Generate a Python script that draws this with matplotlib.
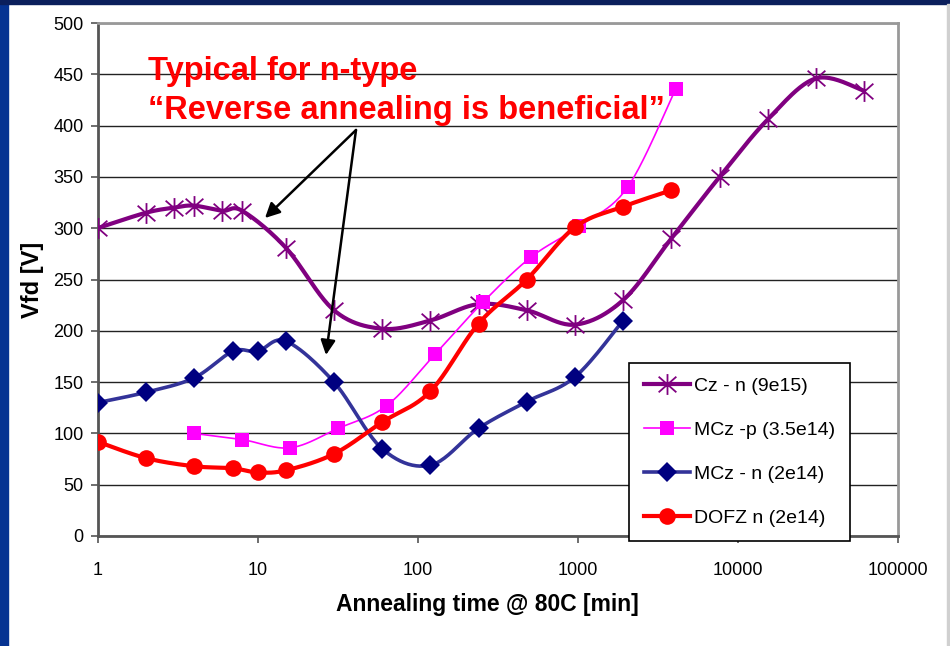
import numpy as np
import matplotlib.pyplot as plt
from matplotlib.path import Path
from matplotlib.lines import Line2D
from matplotlib.patches import Rectangle

plt.rcParams['font.family'] = ['Liberation Sans', 'DejaVu Sans']

# annealing time [min] and full depletion voltage [V]
cz_t = [1, 2, 3, 4, 6, 8, 15, 30, 60, 120, 240, 480, 960, 1920, 3840, 7680, 15360, 30720, 61440]
cz_v = [300, 315, 320, 322, 317, 317, 281, 220, 202, 210, 226, 220, 206, 230, 290, 350, 406, 446, 434]
mczp_t = [4, 8, 16, 32, 64, 128, 256, 512, 1024, 2048, 4096]
mczp_v = [100, 94, 86, 105, 127, 177, 228, 272, 302, 340, 436]
mczn_t = [1, 2, 4, 7, 10, 15, 30, 60, 120, 240, 480, 960, 1920]
mczn_v = [130, 140, 154, 180, 180, 190, 150, 85, 69, 105, 131, 155, 210]
dofz_t = [1, 2, 4, 7, 10, 15, 30, 60, 120, 240, 480, 960, 1920, 3840]
dofz_v = [92, 76, 68, 66, 62, 64, 80, 111, 141, 207, 250, 301, 321, 337]

labels = ['Cz - n (9e15)', 'MCz -p (3.5e14)', 'MCz - n (2e14)', 'DOFZ n (2e14)']


def smooth(t, v, n=25):
    # excel-like smoothed line (catmull-rom bezier in log-x)
    P = np.column_stack([np.log10(t), np.asarray(v, float)])
    P = np.vstack([P[0], P, P[-1]])
    segs = []
    s = np.linspace(0, 1, n)[:, None]
    for i in range(1, len(P) - 2):
        p0, p1, p2, p3 = P[i - 1], P[i], P[i + 1], P[i + 2]
        c1 = p1 + (p2 - p0) / 6
        c2 = p2 - (p3 - p1) / 6
        segs.append((1 - s)**3 * p1 + 3 * (1 - s)**2 * s * c1 + 3 * (1 - s) * s**2 * c2 + s**3 * p2)
    xy = np.vstack(segs)
    return 10**xy[:, 0], xy[:, 1]


star = Path([(0, -1), (0, 1), (-0.85, -0.75), (0.85, 0.75), (-0.85, 0.75), (0.85, -0.75)],
            [Path.MOVETO, Path.LINETO, Path.MOVETO, Path.LINETO, Path.MOVETO, Path.LINETO])

fig = plt.figure(figsize=(9.5, 6.46), dpi=100)
fig.patches.append(Rectangle((0, 0), 8 / 950, 1, transform=fig.transFigure, color='#063392', zorder=0))
fig.patches.append(Rectangle((0, 1 - 4 / 646), 1, 4 / 646, transform=fig.transFigure, color='#0b1f5c', zorder=0))
fig.patches.append(Rectangle((947 / 950, 0), 3 / 950, 1 - 4 / 646, transform=fig.transFigure, color='#d0d0d0', zorder=0))

ax = fig.add_axes([97.5 / 950, 1 - 536 / 646, 800.5 / 950, 513 / 646])
ax.set_xscale('log')
ax.set_xlim(1, 100000)
ax.set_ylim(0, 500)

styles = [
    dict(t=cz_t, v=cz_v, lc='#800080', lw=3, marker=star, ms=15, mfc='none', mec='#800080', mew=1.3),
    dict(t=mczp_t, v=mczp_v, lc='#ff00ff', lw=1.2, marker='s', ms=10.5, mfc='#ff00ff', mec='#ff00ff', mew=0),
    dict(t=mczn_t, v=mczn_v, lc='#333399', lw=2.6, marker='D', ms=10.5, mfc='#000080', mec='#000080', mew=0),
    dict(t=dofz_t, v=dofz_v, lc='#ff0000', lw=3, marker='o', ms=12, mfc='#ff0000', mec='#ff0000', mew=0),
]
handles = []
for k, st in enumerate(styles):
    sx, sy = smooth(st['t'], st['v'])
    ax.plot(sx, sy, color=st['lc'], lw=st['lw'], zorder=3 + k, solid_capstyle='round')
    ax.plot(st['t'], st['v'], ls='none', marker=st['marker'], ms=st['ms'], mfc=st['mfc'],
            mec=st['mec'], mew=st['mew'], zorder=3 + k)
    handles.append(Line2D([], [], color=st['lc'], lw=st['lw'], marker=st['marker'], ms=st['ms'],
                          mfc=st['mfc'], mec=st['mec'], mew=st['mew']))

ax.set_yticks(np.arange(0, 501, 50))
ax.set_xticks([1, 10, 100, 1000, 10000, 100000])
ax.set_xticklabels(['1', '10', '100', '1000', '10000', '100000'])
ax.minorticks_off()
ax.yaxis.grid(True, color='#222222', lw=1)
ax.set_axisbelow(True)
ax.tick_params(axis='both', direction='out', length=5, width=1.2, color='#555555', labelsize=13)
ax.tick_params(axis='x', pad=14)
ax.tick_params(axis='y', pad=5)
for side in ['top', 'right']:
    ax.spines[side].set_color('#999999')
    ax.spines[side].set_linewidth(2)
for side in ['left', 'bottom']:
    ax.spines[side].set_color('#555555')
    ax.spines[side].set_linewidth(2)

fig.text(33 / 950, 1 - 280 / 646, 'Vfd [V]', rotation=90, fontsize=17, fontweight='bold',
         ha='center', va='center')
fig.text(487 / 950, 1 - 605 / 646, 'Annealing time @ 80C [min]', fontsize=16.5, fontweight='bold',
         ha='center', va='center')

fig.text(148 / 950, 1 - 80 / 646, 'Typical for n-type', color='#ff0000', fontsize=23.5,
         fontweight='bold', va='baseline', zorder=10)
fig.text(148 / 950, 1 - 119 / 646, '\u201cReverse annealing is beneficial\u201d', color='#ff0000',
         fontsize=23.5, fontweight='bold', va='baseline', zorder=10)

tail = (356, 646 - 130)
for head in [(265, 646 - 218), (326, 646 - 355)]:
    ax.annotate('', xy=head, xytext=tail, xycoords='figure pixels', textcoords='figure pixels',
                arrowprops=dict(arrowstyle='-|>', color='black', lw=1.8, mutation_scale=22,
                                shrinkA=0, shrinkB=0), zorder=12)

leg = ax.legend(handles, labels, loc='upper left', bbox_to_anchor=(629 / 950, 1 - 363 / 646),
                bbox_transform=fig.transFigure, fontsize=14, frameon=True, fancybox=False,
                edgecolor='black', framealpha=1, handlelength=2.4, handletextpad=0.2,
                labelspacing=1.35, borderpad=0.75, borderaxespad=0)
leg.get_frame().set_linewidth(1.2)
leg.set_zorder(20)

fig.savefig('out.png', dpi=100)
